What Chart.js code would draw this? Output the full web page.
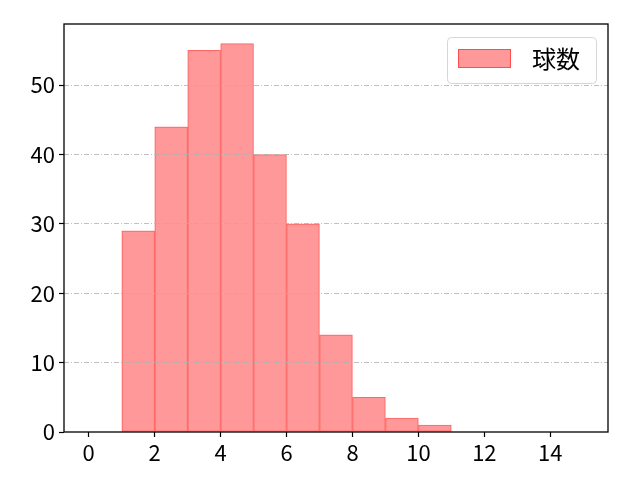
<!DOCTYPE html>
<html>
<head>
<meta charset="utf-8">
<script src="https://cdn.jsdelivr.net/npm/chart.js@4"></script>
<style>
html,body{margin:0;padding:0;background:#fff;}
#c{display:block;}
</style>
</head>
<body>
<canvas id="c" width="640" height="480"></canvas>
<script>
// Histogram data (bin left edges, width 1)
const binStarts = [1, 2, 3, 4, 5, 6, 7, 8, 9, 10];
const counts = [29, 44, 55, 56, 40, 30, 14, 5, 2, 1];
const seriesLabel = '球数';
const xTicks = [0, 2, 4, 6, 8, 10, 12, 14];
const yTicks = [0, 10, 20, 30, 40, 50];
const binWidth = 1;

const FONT = '"Noto Sans CJK JP", "Noto Sans", sans-serif';
const barFill = 'rgba(255,0,0,0.4)';
const barEdge = 'rgba(255,0,0,0.5)';

const xMinData = 0, xMaxData = 15;
const xPad = (xMaxData - xMinData) * 0.05;
const yMax = Math.max(...counts) * 1.05;

const points = binStarts.map((s, i) => ({ x: s + binWidth / 2, y: counts[i] }));

const framePlugin = {
  id: 'frame',
  afterDraw(chart) {
    const { ctx, chartArea: a } = chart;
    ctx.save();
    // legend
    const lx = 447.5, ly = 37.5, lw = 149, lh = 46, r = 4;
    ctx.beginPath();
    ctx.moveTo(lx + r, ly);
    ctx.lineTo(lx + lw - r, ly);
    ctx.quadraticCurveTo(lx + lw, ly, lx + lw, ly + r);
    ctx.lineTo(lx + lw, ly + lh - r);
    ctx.quadraticCurveTo(lx + lw, ly + lh, lx + lw - r, ly + lh);
    ctx.lineTo(lx + r, ly + lh);
    ctx.quadraticCurveTo(lx, ly + lh, lx, ly + lh - r);
    ctx.lineTo(lx, ly + r);
    ctx.quadraticCurveTo(lx, ly, lx + r, ly);
    ctx.closePath();
    ctx.fillStyle = 'rgba(255,255,255,0.8)';
    ctx.fill();
    ctx.strokeStyle = '#d6d6d6';
    ctx.lineWidth = 1;
    ctx.stroke();
    ctx.fillStyle = barFill;
    ctx.fillRect(458, 49, 53, 19);
    ctx.strokeStyle = barEdge;
    ctx.lineWidth = 1;
    ctx.strokeRect(458.5, 49.5, 52, 18);
    ctx.fillStyle = '#000';
    ctx.font = '24px ' + FONT;
    ctx.textBaseline = 'middle';
    ctx.textAlign = 'left';
    ctx.fillText(chart.data.datasets[0].label, 532, 59);
    // frame
    ctx.strokeStyle = '#000';
    ctx.lineWidth = 1.3;
    ctx.strokeRect(a.left, a.top, a.right - a.left, a.bottom - a.top);
    ctx.restore();
  }
};

new Chart(document.getElementById('c'), {
  type: 'bar',
  data: {
    datasets: [{
      label: seriesLabel,
      data: points,
      backgroundColor: barFill,
      borderColor: barEdge,
      borderWidth: 0.5,
      inflateAmount: 0.25,
      borderSkipped: false,
      barPercentage: 1,
      categoryPercentage: 1,
      grouped: false
    }]
  },
  options: {
    responsive: false,
    animation: false,
    devicePixelRatio: 1,
    layout: { padding: { top: 24, right: 32, left: 0, bottom: 0 } },
    plugins: { legend: { display: false }, tooltip: { enabled: false } },
    scales: {
      x: {
        type: 'linear',
        min: xMinData - xPad,
        max: xMaxData + xPad,
        offset: false,
        afterBuildTicks(s) { s.ticks = xTicks.map(v => ({ value: v })); },
        afterFit(s) { s.height = 48; },
        grid: { drawOnChartArea: false, drawTicks: true, tickLength: 5, tickColor: '#000', tickWidth: 1.2, offset: false },
        border: { display: false },
        ticks: { color: '#000', font: { family: FONT, size: 22 }, padding: 2, maxRotation: 0, autoSkip: false }
      },
      y: {
        min: 0,
        max: yMax,
        afterBuildTicks(s) { s.ticks = yTicks.map(v => ({ value: v })); },
        afterFit(s) { s.width = 64; },
        grid: {
          drawOnChartArea: true, drawTicks: true, tickLength: 5, tickColor: '#000', tickWidth: 1.2,
          color: ctx => (ctx.tick && ctx.tick.value === 0) ? 'rgba(0,0,0,0)' : '#b0b0b0',
          lineWidth: 0.8, z: 1
        },
        border: { display: false, dash: [5, 2, 1, 2] },
        ticks: { color: '#000', font: { family: FONT, size: 22 }, padding: 4, autoSkip: false }
      }
    }
  },
  plugins: [framePlugin]
});
</script>
</body>
</html>
